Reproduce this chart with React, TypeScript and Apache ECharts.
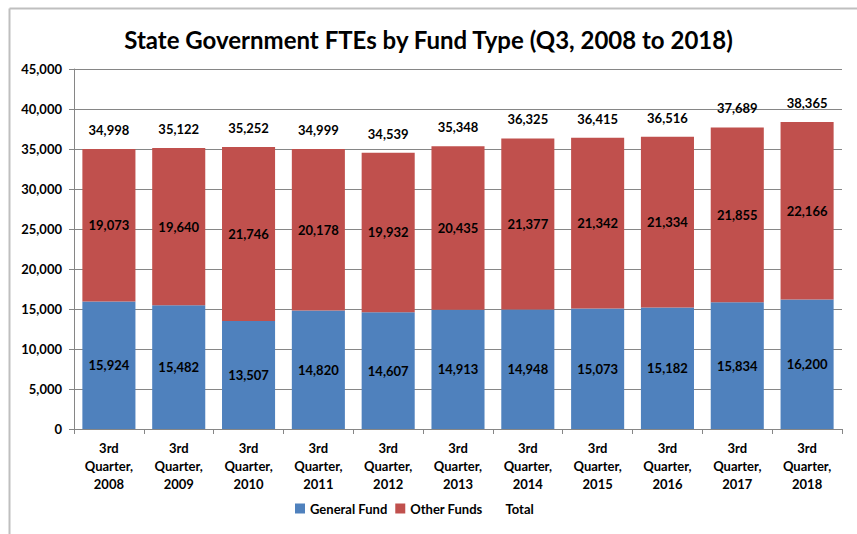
import React, { useEffect, useRef } from "react";
import * as echarts from "echarts";

const categories = [
  "3rd\nQuarter,\n2008",
  "3rd\nQuarter,\n2009",
  "3rd\nQuarter,\n2010",
  "3rd\nQuarter,\n2011",
  "3rd\nQuarter,\n2012",
  "3rd\nQuarter,\n2013",
  "3rd\nQuarter,\n2014",
  "3rd\nQuarter,\n2015",
  "3rd\nQuarter,\n2016",
  "3rd\nQuarter,\n2017",
  "3rd\nQuarter,\n2018",
];
const generalFund = [15924, 15482, 13507, 14820, 14607, 14913, 14948, 15073, 15182, 15834, 16200];
const otherFunds = [19073, 19640, 21746, 20178, 19932, 20435, 21377, 21342, 21334, 21855, 22166];
const totals = [34998, 35122, 35252, 34999, 34539, 35348, 36325, 36415, 36516, 37689, 38365];

const FONT = "Lato, 'Open Sans', sans-serif";
const fmt = (v: number) => v.toLocaleString("en-US");

export default function App() {
  const ref = useRef<HTMLDivElement>(null);
  useEffect(() => {
    const chart = echarts.init(ref.current!, null, { renderer: "svg" });
    chart.setOption({
      animation: false,
      backgroundColor: "#fff",
      textStyle: { fontFamily: FONT },
      title: {
        text: "State Government FTEs by Fund Type (Q3, 2008 to 2018)",
        left: "center",
        top: 22,
        textStyle: { fontSize: 24, fontWeight: "bold", color: "#000", fontFamily: FONT },
      },
      graphic: [
        { type: "line", shape: { x1: 9.5, y1: 8.5, x2: 9.5, y2: 534 }, style: { stroke: "#bfbfbf", lineWidth: 2 } },
        { type: "line", shape: { x1: 9.5, y1: 8.5, x2: 857, y2: 8.5 }, style: { stroke: "#bfbfbf", lineWidth: 2 } },
      ],
      legend: {
        bottom: 14,
        left: 290,
        itemWidth: 10,
        itemHeight: 10,
        itemGap: 8,
        textStyle: { fontSize: 13, fontWeight: "bold", color: "#000", fontFamily: FONT },
        data: [
          { name: "General Fund", icon: "rect" },
          { name: "Other Funds", icon: "rect" },
          { name: "Total", icon: "rect", itemStyle: { color: "rgba(0,0,0,0)" } },
        ],
      },
      grid: { left: 74, right: 15, top: 69, bottom: 105, containLabel: false },
      xAxis: {
        type: "category",
        data: categories,
        axisLine: { lineStyle: { color: "#868686" } },
        axisTick: { show: true, length: 5, lineStyle: { color: "#868686" } },
        axisLabel: {
          fontSize: 13,
          fontWeight: "bold",
          color: "#000",
          lineHeight: 18,
          margin: 10,
          interval: 0,
          fontFamily: FONT,
        },
      },
      yAxis: {
        type: "value",
        min: 0,
        max: 45000,
        interval: 5000,
        axisLine: { show: true, lineStyle: { color: "#868686" } },
        axisTick: { show: true, length: 5, lineStyle: { color: "#868686" } },
        splitLine: { lineStyle: { color: "#868686" } },
        axisLabel: {
          fontSize: 13,
          fontWeight: "bold",
          color: "#000",
          margin: 12,
          formatter: (v: number) => fmt(v),
          fontFamily: FONT,
        },
      },
      series: [
        {
          name: "General Fund",
          type: "bar",
          stack: "a",
          barCategoryGap: "24%",
          data: generalFund,
          itemStyle: { color: "#4F81BD" },
          label: {
            show: true,
            position: "inside",
            fontSize: 13,
            fontWeight: "bold",
            color: "#000",
            formatter: (p: any) => fmt(p.value),
            fontFamily: FONT,
          },
        },
        {
          name: "Other Funds",
          type: "bar",
          stack: "a",
          data: otherFunds,
          itemStyle: { color: "#C0504D" },
          label: {
            show: true,
            position: "inside",
            fontSize: 13,
            fontWeight: "bold",
            color: "#000",
            formatter: (p: any) => fmt(p.value),
            fontFamily: FONT,
          },
        },
        {
          name: "Total",
          type: "line",
          data: totals,
          symbol: "circle",
          symbolSize: 1,
          itemStyle: { color: "rgba(0,0,0,0)" },
          lineStyle: { width: 0, color: "rgba(0,0,0,0)" },
          label: {
            show: true,
            position: "top",
            distance: 12,
            fontSize: 13,
            fontWeight: "bold",
            color: "#000",
            formatter: (p: any) => fmt(p.value),
            fontFamily: FONT,
          },
        },
      ],
    });
    return () => chart.dispose();
  }, []);
  return (
    <div
      ref={ref}
      style={{ position: "fixed", left: 0, top: 0, width: 857, height: 534 }}
    />
  );
}
